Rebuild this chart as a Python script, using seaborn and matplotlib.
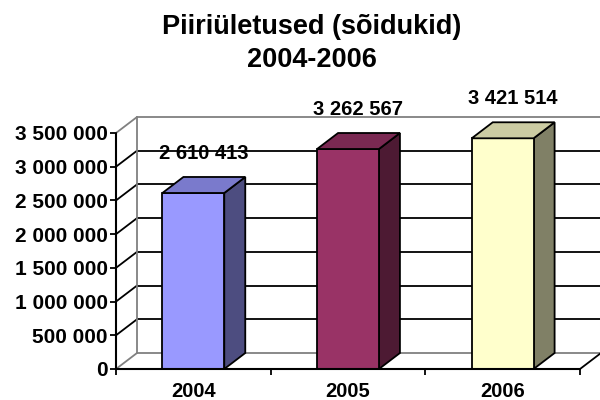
import seaborn as sns
import matplotlib.pyplot as plt
from matplotlib.patches import Polygon
import numpy as np

# Data
years = ["2004", "2005", "2006"]
crossings = [2610413, 3262567, 3421514]
front_colors = ["#9999FF", "#993366", "#FFFFCC"]
top_colors = ["#7A7ACC", "#7A2952", "#CCCCA3"]
side_colors = ["#4D4D80", "#4D1A33", "#808066"]
y_ticks = np.arange(0, 3500001, 500000)

sns.set_style("white")
plt.rcParams["font.family"] = ["Liberation Sans", "DejaVu Sans"]
plt.rcParams["font.weight"] = "bold"
plt.rcParams["text.color"] = "black"
plt.rcParams["xtick.color"] = "black"
plt.rcParams["ytick.color"] = "black"


def spaced(v):
    return f"{int(v):,}".replace(",", " ")


W, H = 600, 400
fig = plt.figure(figsize=(6, 4), dpi=100)
fig.patch.set_facecolor("white")
# front box of the 3D plot: x 116..580 px, y 133..369 px (from top)
ax = fig.add_axes([116 / W, (H - 369) / H, 464 / W, 236 / H])

bar_w = 0.4
sns.barplot(x=years, y=crossings, hue=years, palette=front_colors,
            saturation=1, width=bar_w, edgecolor="black", linewidth=1.3,
            legend=False, ax=ax, zorder=4)

ax.set_xlim(-0.5, 2.5)
ax.set_ylim(0, 3500000)
for s in ax.spines.values():
    s.set_visible(False)
ax.set_facecolor("none")

# depth offset of the 3D look (21 px right, 16 px up)
DX = 21 / 464 * 3
DY = 16 / 236 * 3500000

# back wall gridlines and left wall diagonals
for v in y_ticks:
    edge = v == 0 or v == y_ticks[-1]
    col = "#808080" if edge else "black"
    ax.plot([-0.5 + DX, 2.5 + DX + 0.2], [v + DY, v + DY], color=col,
            lw=1.3, clip_on=False, zorder=1)
    ax.plot([-0.5, -0.5 + DX], [v, v + DY], color=col, lw=1.3,
            clip_on=False, zorder=1)
ax.plot([-0.5 + DX, -0.5 + DX], [DY, y_ticks[-1] + DY], color="#808080",
        lw=1.3, clip_on=False, zorder=1)
ax.plot([2.5, 2.5 + DX], [0, DY], color="black", lw=1.3, clip_on=False,
        zorder=1)

# front axis lines
ax.plot([-0.5, -0.5], [0, y_ticks[-1]], color="black", lw=1.5,
        clip_on=False, zorder=5)
ax.plot([-0.5, 2.5], [0, 0], color="black", lw=1.5, clip_on=False, zorder=5)

# 3D faces of the bars
for i, v in enumerate(crossings):
    l, r = i - bar_w / 2, i + bar_w / 2
    side = Polygon([(r, 0), (r + DX, DY), (r + DX, v + DY), (r, v)],
                   closed=True, facecolor=side_colors[i], edgecolor="black",
                   lw=1.3, zorder=3, clip_on=False)
    top = Polygon([(l, v), (l + DX, v + DY), (r + DX, v + DY), (r, v)],
                  closed=True, facecolor=top_colors[i], edgecolor="black",
                  lw=1.3, zorder=5, clip_on=False)
    ax.add_patch(side)
    ax.add_patch(top)
    ax.annotate(spaced(v), (i + DX / 2, v + DY), xytext=(0, 10),
                textcoords="offset points", ha="center", va="bottom",
                fontsize=14.5, fontweight="bold", annotation_clip=False)

ax.set_yticks(y_ticks)
ax.set_yticklabels([spaced(v) for v in y_ticks])
ax.set_xticks(range(len(years)))
ax.set_xticklabels(years)
ax.set_xticks([-0.5, 0.5, 1.5, 2.5], minor=True)
ax.tick_params(axis="y", left=True, length=4, width=1.3, color="black",
               pad=2, labelsize=15)
ax.tick_params(axis="x", which="major", bottom=True, length=0, pad=9.5,
               labelsize=14.5)
ax.tick_params(axis="x", which="minor", bottom=True, length=4, width=1.3,
               color="black")
for lab in ax.get_xticklabels() + ax.get_yticklabels():
    lab.set_fontweight("bold")
ax.set_xlabel("")
ax.set_ylabel("")

fig.text(312 / W, 1 - 34 / H, "Piiriületused (sõidukid)", ha="center",
         va="baseline", fontsize=19.5, fontweight="bold")
fig.text(312 / W, 1 - 67 / H, "2004-2006", ha="center", va="baseline",
         fontsize=19.5, fontweight="bold")

plt.savefig("out.png", dpi=100)
